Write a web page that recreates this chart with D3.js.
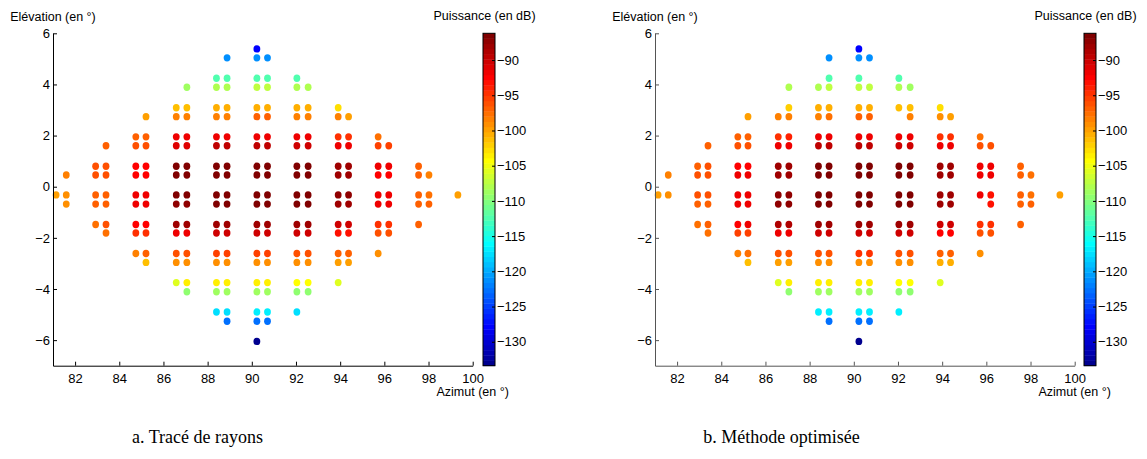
<!DOCTYPE html>
<html><head><meta charset="utf-8">
<script src="https://cdn.jsdelivr.net/npm/d3@7"></script>
<style>
body{margin:0;background:#fff;}
svg{display:block;}
text{font-family:"Liberation Sans",Arial,Helvetica,sans-serif;fill:#000;}
</style>
</head><body>
<svg id="c" width="1147" height="459"></svg>
<script>
const _ = null;
// Azimuth (deg) of each dot column, elevation (deg) of each dot row
const azimuth = [81.14, 81.60, 82.93, 83.40, 84.75, 85.21, 86.58, 87.06, 88.40, 88.88, 90.23, 90.71, 92.04, 92.55, 93.91, 94.38, 95.72, 96.20, 97.55, 98.02, 99.33];
const elevation = [5.39, 5.04, 4.24, 3.89, 3.09, 2.74, 1.95, 1.60, 0.80, 0.46, -0.32, -0.68, -1.48, -1.81, -2.61, -2.96, -3.75, -4.11, -4.90, -5.26, -6.05];
// index of the first column present in each row
const firstCol = [10, 9, 8, 7, 6, 5, 4, 3, 2, 1, 0, 1, 2, 3, 4, 5, 6, 7, 8, 9, 10];

// Power (dB) — a. ray tracing
const powerRayTracing = [
  [-128],
  [-121, -121, -121],
  [-112.4, -112.4, -112.4, -112.4, -112.4],
  [-109, -107.6, -107.6, -107.2, -107.2, -107.6, -108.3],
  [-101.4, -101.4, -100.9, -100.9, -100.4, -100.4, -100.9, -100.9, -102.8],
  [-100, -98.1, -98.1, -98.1, -98.1, -97.2, -97.2, -98.1, -98.1, -98.6, -99.5],
  [-96.7, -96.7, -91.4, -91.4, -92.1, -92.1, -92.1, -92.1, -91.4, -91.4, -94.9, -94.9, -97.6],
  [-96.7, -96.3, -96.3, -90.9, -90.9, -89.5, -89.5, -89.5, -89.5, -89.9, -89.9, -92.1, -92.1, -95.4, -95.4],
  [-96.3, -96.3, -92.6, -92.6, -86.8, -86.8, -86.8, -86.8, -86.8, -86.8, -86.8, -86.8, -87.7, -87.7, -92.1, -92.1, -96.7],
  [-98.6, -96.3, -96.3, -92.6, -92.6, -86.8, -86.8, -86.8, -86.8, -86.8, -86.8, -86.8, -86.8, -87.7, -87.7, -92.6, -92.6, -96.7, -98.1],
  [-100, -99, -96.7, -96.7, -91.4, -91.4, -86.8, -86.8, -86.8, -86.8, -86.2, -86.2, -86.8, -86.8, -87.2, -87.2, -92.1, -92.1, -96.7, -97.6, -100],
  [-99, -96.7, -96.7, -91.4, -91.4, -87.2, -87.2, -86.8, -86.8, -86.8, -86.8, -86.8, -86.8, -87.7, -87.7, -92.1, -92.1, -97.2, -97.2],
  [-97.6, -96.3, -92.6, -92.6, -88.2, -88.2, -88.2, -88.2, -88.2, -88.2, -88.2, -88.2, -90.5, -90.5, -94.9, -94.9, -97.2],
  [-97.6, -94.9, -94.9, -92.1, -92.1, -90.5, -90.5, -90.5, -90.5, -90.5, -90.5, -93, -93, -95.8, -95.8],
  [-98.1, -96.7, -95.8, -95.8, -95.4, -95.4, -95.4, -95.4, -95.8, -95.8, -96.7, -96.7, -99],
  [-101.4, -99, -99, -99, -99, -99, -99, -99, -99, -100, -100],
  [-106, -103.2, -103.7, -103.7, -103.9, -103.9, -104.4, -104.4, -106],
  [-109.2, -108.8, -108.8, -108.8, -108.8, -109.2, -109.2],
  [-117.3, -117.3, -116.9, -116.9, -117.3],
  [-122.9, -122.9, -122.9],
  [-133.4]
];

// Power (dB) — b. optimised method (null = no dot)
const powerOptimized = [
  [-128],
  [-121.5, -121, -121],
  [_, -112.4, -112.4, _, -112.4],
  [-108.3, -107.6, -106.9, -106.9, -106.9, -107.6, -108.8],
  [_, -101.8, -100.9, -100.9, -100.9, -100.9, -101.4, -101.4, -102.8],
  [-100, -98.6, -98.1, -98.1, -97.6, -97.2, -97.2, _, -98.1, -99, -99.5],
  [-97.2, -97.2, -94.4, -93.9, -92.1, -92.1, -92.1, -92.1, -91.4, -91.4, -94.4, -94.9, -97.6],
  [-97.2, -96.3, -96.3, -91.4, -91.4, -89.5, -89.5, -89.5, -89.5, -90.5, -90.5, -92.1, -92.1, -95.8, -95.8],
  [-96.7, -96.3, -92.6, -92.6, -87.7, -87.7, -86.8, -86.8, -86.8, -86.8, -86.8, -86.8, -88.2, -88.2, -92.1, -92.1, -97.2],
  [-98.6, -95.8, -95.8, -92.1, -92.1, -87.7, -87.7, -86.8, -86.8, -86.8, -86.8, -86.8, -86.8, -88.2, -88.2, -92.1, -92.1, -96.7, -97.6],
  [-100, -99, -96.3, -95.8, -91.4, -91.4, -87.2, -87.2, -86.8, -86.8, -86.2, -86.2, -86.8, -86.8, -87.7, -87.7, -91.4, -93, -96.7, -97.6, -100],
  [_, -96.7, -96.7, -91.4, -91.4, -87.2, -87.2, -86.8, -86.8, -86.8, -86.8, -86.8, -86.8, -88.2, -88.2, _, -93, -97.2, -97.2],
  [-97.6, -96.7, -92.6, -92.1, -88.6, -88.6, -88.2, -88.2, -87.7, -87.7, -87.7, -87.7, -90.5, -90.5, -94.9, -94.9, -97.2],
  [-97.6, -95.4, -95.4, -91.4, -91.4, -89.9, -89.9, -90.5, -90.5, -90.5, -90.5, -92.6, -92.6, -96.3, -96.3],
  [-98.6, -97.6, -96.3, -96.3, -95.8, -95.8, -94.9, -94.9, -95.8, -95.8, -97.2, -97.2, -99],
  [-101.4, -99.5, -99.5, -99, -99, -99, -99, -99, -99, -100.4, -100.4],
  [-106, -103.2, -103.7, -103.7, -103.7, -103.7, -104.4, -104.4, -106],
  [-109.2, -108.8, -108.8, -108.8, -108.8, -109.2, -109.2],
  [-116.9, -116.9, -116.9, -116.9, -116.9],
  [-122.9, -122.9, -122.9],
  [-133.4]
];

const xTicks = [82, 84, 86, 88, 90, 92, 94, 96, 98, 100];
const yTicks = [-6, -4, -2, 0, 2, 4, 6];
const cbTicks = [-130, -125, -120, -115, -110, -105, -100, -95, -90];
const xDomain = [81, 100];
const yDomain = [-7, 6];
const cRange = [-133.4, -86.2];
const captions = ["a. Tracé de rayons", "b. Méthode optimisée"];
const xLabel = "Azimut (en °)";
const yLabel = "Elévation (en °)";
const cLabel = "Puissance (en dB)";

// MATLAB jet(m)
function jetMap(m) {
  const n = Math.ceil(m / 4);
  const u = [];
  for (let i = 1; i <= n; i++) u.push(i / n);
  for (let i = 1; i < n; i++) u.push(1);
  for (let i = n; i >= 1; i--) u.push(i / n);
  const g0 = Math.ceil(n / 2) - (m % 4 === 1 ? 1 : 0);
  const J = Array.from({length: m}, () => [0, 0, 0]);
  u.forEach((val, k) => {
    const g = g0 + k + 1, r = g + n, b = g - n;
    if (r >= 1 && r <= m) J[r - 1][0] = val;
    if (g >= 1 && g <= m) J[g - 1][1] = val;
    if (b >= 1 && b <= m) J[b - 1][2] = val;
  });
  return J.map(c => d3.rgb(Math.round(c[0] * 255), Math.round(c[1] * 255), Math.round(c[2] * 255)).formatHex());
}
const M = 64;
const jet = jetMap(M);
function colorOf(v) {
  let i = Math.floor((v - cRange[0]) / (cRange[1] - cRange[0]) * M);
  i = Math.max(0, Math.min(M - 1, i));
  return jet[i];
}

const svg = d3.select("#c");
const fmt = d => d3.format("d")(d).replace("-", "\u2212");

const panels = [
  {data: powerRayTracing, x0: 53, x1: 472.7, cbX: 483, capX: 197.5, axisColor: "#000"},
  {data: powerOptimized, x0: 655, x1: 1074.7, cbX: 1084, capX: 781.5, axisColor: "#555"}
];
const yTop = 33.3, yBot = 365.7, cbW = 12;

panels.forEach(p => {
  const x = d3.scaleLinear().domain(xDomain).range([p.x0, p.x1]);
  const y = d3.scaleLinear().domain(yDomain).range([yBot, yTop]);
  const g = svg.append("g");

  // dots
  const pts = [];
  p.data.forEach((row, r) => row.forEach((v, k) => {
    if (v !== null) pts.push({az: azimuth[firstCol[r] + k], el: elevation[r], v});
  }));
  g.append("g").selectAll("ellipse").data(pts).join("ellipse")
    .attr("cx", d => x(d.az)).attr("cy", d => y(d.el))
    .attr("rx", 3.4).attr("ry", 3.7)
    .attr("fill", d => colorOf(d.v));

  // axes
  const ax = g.append("g").attr("transform", `translate(0,${yBot})`)
    .call(d3.axisBottom(x).tickValues(xTicks).tickSizeInner(-4).tickSizeOuter(0).tickPadding(8).tickFormat(fmt));
  const ay = g.append("g").attr("transform", `translate(${p.x0},0)`)
    .call(d3.axisLeft(y).tickValues(yTicks).tickSizeInner(-4).tickSizeOuter(0).tickPadding(3).tickFormat(fmt));
  [ax, ay].forEach(a => {
    a.selectAll("path,line").attr("stroke", p.axisColor);
    a.selectAll("text").attr("font-size", 13).attr("fill", "#111");
  });

  g.append("text").attr("x", p.x0).attr("y", 20.5).attr("text-anchor", "middle")
    .attr("font-size", 12.5).attr("fill", "#111").text(yLabel);
  g.append("text").attr("x", p.x1).attr("y", 396).attr("text-anchor", "middle")
    .attr("font-size", 12.5).attr("fill", "#111").text(xLabel);

  // colorbar
  const cy = d3.scaleLinear().domain(cRange).range([yBot, yTop]);
  const step = (cRange[1] - cRange[0]) / M;
  g.append("g").selectAll("rect").data(d3.range(M)).join("rect")
    .attr("x", p.cbX).attr("width", cbW)
    .attr("y", i => cy(cRange[0] + (i + 1) * step))
    .attr("height", i => cy(cRange[0] + i * step) - cy(cRange[0] + (i + 1) * step) + 0.4)
    .attr("fill", i => jet[i]);
  g.append("rect").attr("x", p.cbX).attr("y", yTop).attr("width", cbW).attr("height", yBot - yTop)
    .attr("fill", "none").attr("stroke", "#000").attr("stroke-width", 1);
  const ac = g.append("g").attr("transform", `translate(${p.cbX + cbW},0)`)
    .call(d3.axisRight(cy).tickValues(cbTicks).tickSizeInner(-3).tickSizeOuter(0).tickPadding(2).tickFormat(fmt));
  ac.select(".domain").remove();
  ac.selectAll("line").attr("stroke", "#000");
  ac.selectAll("text").attr("font-size", 13).attr("fill", "#111");
  g.append("text").attr("x", p.cbX + 1.5).attr("y", 20).attr("text-anchor", "middle")
    .attr("font-size", 12.5).attr("fill", "#111").text(cLabel);
});

captions.forEach((c, i) => {
  svg.append("text").attr("x", panels[i].capX).attr("y", 443).attr("text-anchor", "middle")
    .style("font-family", "'Liberation Serif', 'DejaVu Serif', serif").style("font-size", "18px").text(c);
});
</script>
</body></html>
